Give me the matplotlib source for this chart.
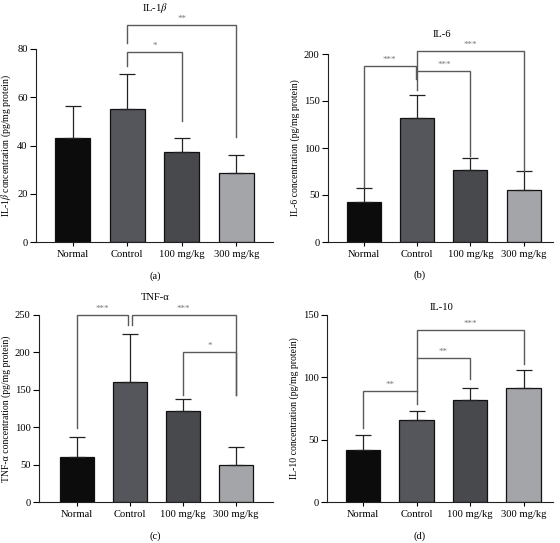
import matplotlib
matplotlib.use("Agg")
import matplotlib.pyplot as plt

plt.rcParams['font.family'] = ['Liberation Serif', 'DejaVu Serif']
plt.rcParams['mathtext.fontset'] = 'stix'

groups = ["Normal", "Control", "100 mg/kg", "300 mg/kg"]
bar_colors = ["#0c0c0c", "#55565b", "#47494c", "#a3a5a8"]

il1b_mean = [43.0, 55.3, 37.3, 28.7]
il1b_err = [13.2, 14.2, 5.7, 7.5]
il6_mean = [43.0, 132.0, 76.5, 55.0]
il6_err = [14.0, 24.0, 13.0, 21.0]
tnf_mean = [59.5, 160.0, 121.0, 49.5]
tnf_err = [27.0, 65.0, 17.0, 23.5]
il10_mean = [41.5, 65.5, 82.0, 91.5]
il10_err = [12.0, 7.5, 9.5, 14.5]

# significance brackets: (x_left, x_right, y_bar, y_left_end, y_right_end, label)
il1b_sig = [(1, 2, 78.8, 73.0, 50.0, "*"), (1, 3, 90.0, 82.5, 43.5, "**")]
il6_sig = [(0, 0.97, 187.5, 58.5, 173.0, "***"), (1, 2, 182.0, 182.0, 91.0, "***"),
           (1, 3, 203.0, 162.0, 75.5, "***")]
tnf_sig = [(0, 0.97, 250.0, 99.0, 236.6, "***"), (1.03, 3, 250.0, 236.6, 143.0, "***"),
           (2, 3, 201.0, 143.0, 143.0, "*")]
il10_sig = [(0, 1, 89.4, 59.2, 89.4, "**"), (1, 2, 115.3, 115.3, 98.5, "**"),
            (1, 3, 138.0, 78.7, 111.0, "***")]

W, H = 560, 543
fig = plt.figure(figsize=(W / 100, H / 100), dpi=100)


def px_axes(l, r, top, bottom):
    return fig.add_axes([l / W, 1 - bottom / H, (r - l) / W, (bottom - top) / H])


panels = [
    dict(box=(36, 273, 49, 242), mean=il1b_mean, err=il1b_err, sig=il1b_sig, ymax=80,
         yticks=[0, 20, 40, 60, 80], xlim=(-0.67, 3.67),
         ylabel=r"IL-1$\beta$ concentration (pg/mg protein)",
         title=r"IL-1$\beta$", tpos=(155, 8), letter="(a)", lpos=(155, 276)),
    dict(box=(328, 553, 54, 242), mean=il6_mean, err=il6_err, sig=il6_sig, ymax=200,
         yticks=[0, 50, 100, 150, 200], xlim=(-0.675, 3.55),
         ylabel="IL-6 concentration (pg/mg protein)",
         title="IL-6", tpos=(442, 34), letter="(b)", lpos=(420, 275)),
    dict(box=(39, 273, 315, 502), mean=tnf_mean, err=tnf_err, sig=tnf_sig, ymax=250,
         yticks=[0, 50, 100, 150, 200, 250], xlim=(-0.72, 3.7),
         ylabel="TNF-α concentration (pg/mg protein)",
         title="TNF-α", tpos=(155, 297), letter="(c)", lpos=(155, 536)),
    dict(box=(327, 553, 315, 502), mean=il10_mean, err=il10_err, sig=il10_sig, ymax=150,
         yticks=[0, 50, 100, 150], xlim=(-0.675, 3.55),
         ylabel="IL-10 concentration (pg/mg protein)",
         title="IL-10", tpos=(442, 307), letter="(d)", lpos=(420, 536)),
]

fs = 7.6
brk_color = "#5a5a5a"
for p in panels:
    ax = px_axes(*p["box"])
    x = list(range(len(groups)))
    ax.bar(x, p["mean"], width=0.64, color=bar_colors, edgecolor="#111111", linewidth=0.9, zorder=2)
    ax.errorbar(x, p["mean"], yerr=[[0] * 4, p["err"]], fmt="none", ecolor="#222222",
                elinewidth=0.9, capsize=6, capthick=0.9, zorder=3)
    ax.set_ylim(0, p["ymax"])
    ax.set_xlim(*p["xlim"])
    ax.set_yticks(p["yticks"])
    ax.set_xticks(x)
    ax.set_xticklabels(groups, fontsize=fs)
    ax.tick_params(axis="y", labelsize=fs, length=4, width=0.8, pad=2, direction="out")
    ax.tick_params(axis="x", length=3, width=0.8, pad=3, direction="out")
    for s in ["top", "right"]:
        ax.spines[s].set_visible(False)
    for s in ["left", "bottom"]:
        ax.spines[s].set_linewidth(0.8)
        ax.spines[s].set_color("#222222")
    ax.set_ylabel(p["ylabel"], fontsize=7.0, labelpad=3)
    for (x1, x2, yb, yl, yr, lab) in p["sig"]:
        ax.plot([x1, x1, x2, x2], [yl, yb, yb, yr], color=brk_color, lw=1.0,
                clip_on=False, zorder=4, solid_joinstyle="miter")
        ax.annotate(lab, xy=((x1 + x2) / 2, yb), xytext=(0, 1.5), textcoords="offset points",
                    ha="center", va="bottom", fontsize=6.5, color="#777777",
                    annotation_clip=False)
    fig.text(p["tpos"][0] / W, 1 - p["tpos"][1] / H, p["title"], ha="center", va="center",
             fontsize=fs)
    fig.text(p["lpos"][0] / W, 1 - p["lpos"][1] / H, p["letter"], ha="center", va="center",
             fontsize=fs)

fig.savefig("out.png", dpi=100)
